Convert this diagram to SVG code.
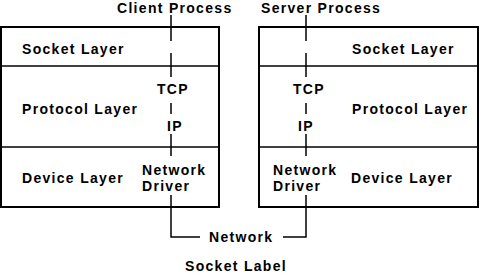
<svg xmlns="http://www.w3.org/2000/svg" width="480" height="278" viewBox="0 0 480 278">
<style>
text{font-family:"Liberation Sans",Arial,sans-serif;font-weight:bold;font-size:14px;letter-spacing:1.3px;fill:#000}
.box{fill:#fff;stroke:#000;stroke-width:2}
.div{stroke:#000;stroke-width:1.5}
.ln{stroke:#000;stroke-width:1.5;fill:none}
</style>
<rect width="480" height="278" fill="#fff"/>
<g id="client-host">
<rect class="box" x="1" y="27" width="218" height="180"/>
<line class="div" x1="1" y1="66" x2="219" y2="66"/>
<line class="div" x1="1" y1="147" x2="219" y2="147"/>
<text x="22" y="54">Socket Layer</text>
<text x="22" y="114">Protocol Layer</text>
<text x="22" y="183">Device Layer</text>
<text x="157" y="94">TCP</text>
<text x="167" y="131">IP</text>
<text x="142" y="175">Network</text>
<text x="142" y="191">Driver</text>
</g>
<g id="server-host">
<rect class="box" x="259" y="27" width="219" height="180"/>
<line class="div" x1="259" y1="66" x2="478" y2="66"/>
<line class="div" x1="259" y1="147" x2="478" y2="147"/>
<text x="352" y="54">Socket Layer</text>
<text x="352" y="114">Protocol Layer</text>
<text x="351" y="183">Device Layer</text>
<text x="293" y="94">TCP</text>
<text x="298" y="131">IP</text>
<text x="273" y="175">Network</text>
<text x="273" y="191">Driver</text>
</g>
<g id="labels">
<text x="117" y="13">Client Process</text>
<text x="261" y="13">Server Process</text>
<text x="209" y="242">Network</text>
<text x="185" y="271">Socket Label</text>
</g>
<g id="connectors">
<path class="ln" d="M171,15V41M171,53V77M171,103V114M171,134V156M171,195V237H200"/>
<path class="ln" d="M306,15V41M306,53V77M306,103V114M306,134V156M306,195V237H283"/>
</g>
</svg>
